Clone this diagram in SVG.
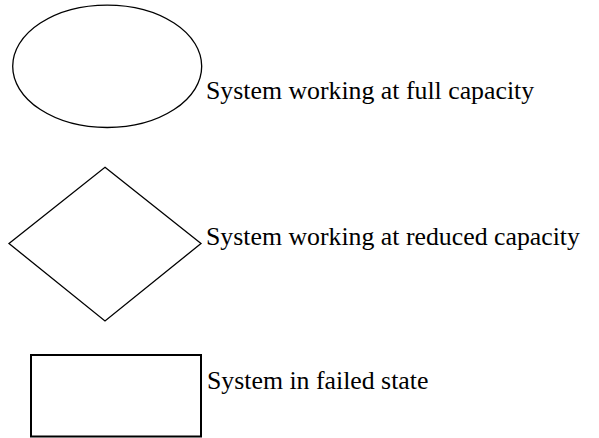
<svg xmlns="http://www.w3.org/2000/svg" width="599" height="438" viewBox="0 0 599 438">
<style>
.shape{fill:none;stroke:#000;stroke-width:1.3}
text{font-family:'Liberation Serif','Times New Roman','DejaVu Serif',serif;font-size:25.8px;fill:#000}
</style>
<rect width="599" height="438" fill="#fff"/>
<g id="full">
<ellipse class="shape" cx="107.2" cy="66.3" rx="94.5" ry="61.2"/>
<text x="206" y="99" font-family="Liberation Serif, serif">System working at full capacity</text>
</g>
<g id="reduced">
<polygon class="shape" points="105,167.3 201,243.5 105,321 9,243.5"/>
<text x="206" y="245" font-family="Liberation Serif, serif">System working at reduced capacity</text>
</g>
<g id="failed">
<rect class="shape" x="31" y="355" width="170" height="81.5" style="stroke-width:2"/>
<text x="207" y="389" font-family="Liberation Serif, serif">System in failed state</text>
</g>
<g id="connectors"/>
</svg>
